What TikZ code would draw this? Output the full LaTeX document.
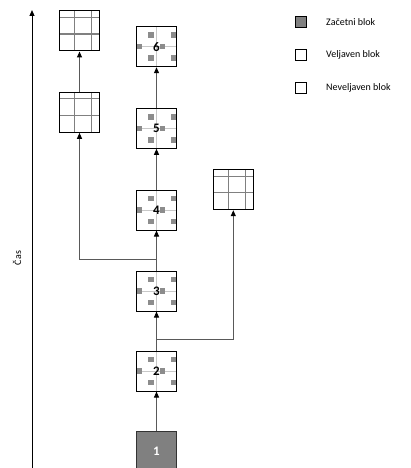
\documentclass[tikz,border=0pt]{standalone}
\usepackage{fontspec}
\setmainfont{Carlito}
\usetikzlibrary{arrows.meta,calc}
\definecolor{blkgray}{HTML}{808080}
\definecolor{sqgray}{HTML}{8C8C8C}
\definecolor{crossgray}{HTML}{C8C8C8}
\definecolor{gridgray}{HTML}{808080}
\definecolor{conngray}{HTML}{595959}
\tikzset{
  blk/.style={draw=black, line width=1pt, minimum width=40pt, minimum height=40pt, inner sep=0pt, font=\fontsize{13}{13}\selectfont\bfseries},
  validblk/.style={blk, fill=white, path picture={
      \coordinate (nw) at (path picture bounding box.north west);
      \draw[crossgray, line width=0.8pt] ($(nw)+(20,0)$) -- ($(nw)+(20,40)$) ($(nw)+(0,20)$) -- ($(nw)+(40,20)$);
      \foreach \px/\py in {14.5/8.5,37.5/8.5,3/20,26/20,14.5/31.5,37.5/31.5}
        \fill[sqgray] ($(nw)+(\px-2.75,\py-2.75)$) rectangle ($(nw)+(\px+2.75,\py+2.75)$);
    }},
  invalidblk/.style={blk, fill=white, path picture={
      \coordinate (nw) at (path picture bounding box.north west);
      \draw[gridgray, line width=1.3pt] ($(nw)+(15,0)$) -- ($(nw)+(15,40)$) ($(nw)+(32,0)$) -- ($(nw)+(32,40)$) ($(nw)+(0,6.5)$) -- ($(nw)+(40,6.5)$) ($(nw)+(0,23)$) -- ($(nw)+(40,23)$);
    }},
  startblk/.style={blk, fill=blkgray, draw=black!80, text=white},
  conn/.style={draw=conngray, line width=1pt, -{Triangle[color=black,width=5pt,length=6pt]}},
  legsq/.style={draw=black, line width=0.8pt, minimum width=11pt, minimum height=11pt, inner sep=0pt},
  legtxt/.style={anchor=west, font=\fontsize{10}{12}\selectfont, inner sep=0pt}
}
\begin{document}
\begin{tikzpicture}[x=1pt, y=-1pt]
  \useasboundingbox (0,0) rectangle (411,468);
  \clip (0,0) rectangle (411,468);
  % time axis
  \coordinate (axbot) at (32,468);
  \coordinate (axtop) at (32,10);
  \draw[line width=1pt, -{Triangle[width=5pt,length=6pt]}] (axbot) -- (axtop);
  \node[rotate=90, font=\fontsize{10}{12}\selectfont] (cas) at (17,258) {Čas};
  % blocks
  \node[startblk] (b1) at (156.5,451) {1};
  \node[validblk] (b2) at (156.5,371) {2};
  \node[validblk] (b3) at (156.5,291) {3};
  \node[validblk] (b4) at (156.5,210) {4};
  \node[validblk] (b5) at (156.5,128.3) {5};
  \node[validblk] (b6) at (156.5,46.7) {6};
  \node[invalidblk] (inv1) at (79.5,31) {};
  \node[invalidblk] (inv2) at (79.5,112.3) {};
  \node[invalidblk] (inv3) at (233.3,189.7) {};
  % connectors
  \draw[conn] (b1) -- (b2);
  \draw[conn] (b2) -- (b3);
  \draw[conn] (b2.north) -- ++(0,-11) -| (inv3.south);
  \draw[conn] (b3) -- (b4);
  \draw[conn] (b3.north) -- ++(0,-11) -| (inv2.south);
  \draw[conn] (b4) -- (b5);
  \draw[conn] (b5) -- (b6);
  \draw[conn] (inv2) -- (inv1);
  % legend
  \node[legsq, fill=blkgray] (l1) at (301,22) {};
  \node[legsq, fill=white] (l2) at (301,54.7) {};
  \node[legsq, fill=white] (l3) at (301,87.7) {};
  \node[legtxt] (t1) at (326,22) {Začetni blok};
  \node[legtxt] (t2) at (326,54.7) {Veljaven blok};
  \node[legtxt] (t3) at (326,87.7) {Neveljaven blok};
\end{tikzpicture}
\end{document}
